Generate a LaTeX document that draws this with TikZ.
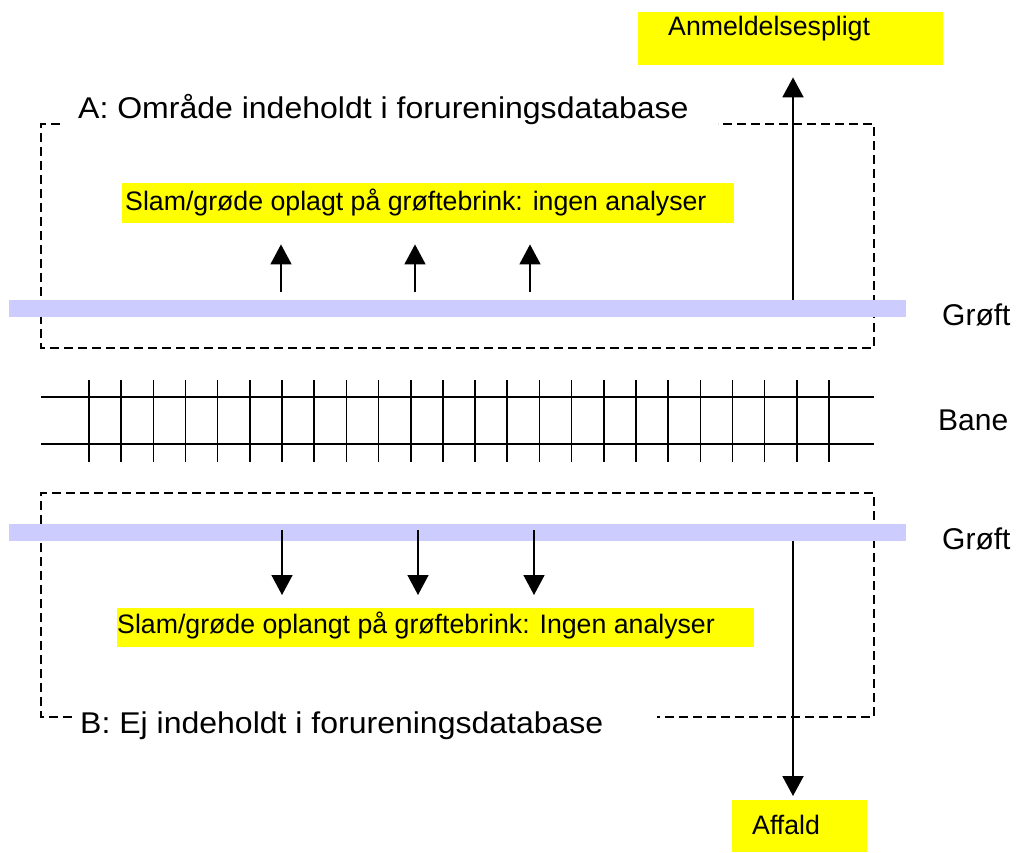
\documentclass[tikz,border=0pt]{standalone}
\usepackage{fontspec}
\setmainfont{Liberation Sans}
\usetikzlibrary{arrows.meta}
\definecolor{bandblue}{RGB}{204,204,255}
\definecolor{boxyellow}{RGB}{255,255,0}
\tikzset{
  bigtext/.style={anchor=base west, inner sep=0pt, font=\fontsize{30}{36}\selectfont},
  ytext/.style={anchor=base west, inner sep=0pt, font=\fontsize{26.7}{32}\selectfont},
  ybox/.style={fill=boxyellow, draw=none, anchor=north west, inner sep=0pt},
  band/.style={fill=bandblue, draw=none},
  areabox/.style={line width=2.6pt, dash pattern=on 9pt off 5pt},
  rail/.style={line width=2pt},
  sleeper/.style={line width=1.6pt},
  smallarrow/.style={line width=1.6pt, -{Triangle[width=21pt,length=20pt]}},
  bigarrow/.style={line width=2pt, -{Triangle[width=21pt,length=20pt]}}
}
\begin{document}
\begin{tikzpicture}[x=1pt,y=-1pt]
\useasboundingbox (0,0) rectangle (1017,852);

% dashed area boxes
\draw[areabox] (60,124) -- (41,124) -- (41,348) -- (874,348) -- (874,124) -- (718,124);
\draw[areabox] (72,717) -- (41,717) -- (41,493) -- (874,493) -- (874,717) -- (657,717);

% area labels
\node[bigtext] (labA) at (78,118) {\scalebox{1.067}[1]{A: Område indeholdt i forureningsdatabase}};
\node[bigtext] (labB) at (80,733) {\scalebox{1.067}[1]{B: Ej indeholdt i forureningsdatabase}};

% ditches
\fill[band] (9,300) rectangle (906,317);
\fill[band] (9,524) rectangle (906,541);

% track
\draw[rail] (41,397) -- (874,397);
\draw[rail] (41,444) -- (874,444);
\foreach \i in {0,...,23} \draw[sleeper] (89+32.174*\i,380) -- ++(0,82);

% right labels
\node[bigtext] (groft1) at (942,325) {Grøft};
\node[bigtext] (bane) at (938,430) {Bane};
\node[bigtext] (groft2) at (942,549) {Grøft};

% yellow boxes
\node[ybox, minimum width=305pt, minimum height=53pt] (anm) at (638,12) {};
\node[ytext] (anmtxt) at (668,35) {Anmeldelsespligt};
\node[ybox, minimum width=612pt, minimum height=40pt] (slamA) at (122,183) {};
\node[ytext] (slamAtxt) at (125,210) {Slam/grøde oplagt på grøftebrink: ingen analyser};
\node[ybox, minimum width=637pt, minimum height=39pt] (slamB) at (117,608) {};
\node[ytext] (slamBtxt) at (117,633) {Slam/grøde oplangt på grøftebrink: Ingen analyser};
\node[ybox, minimum width=135pt, minimum height=52pt] (aff) at (732,800) {};
\node[ytext] (afftxt) at (752,834) {Affald};

% arrows
\coordinate (a1) at (281,292);
\coordinate (a2) at (415,292);
\coordinate (a3) at (530,292);
\draw[smallarrow] (a1) -- ([yshift=-21pt]a1 |- slamA.south);
\draw[smallarrow] (a2) -- ([yshift=-21pt]a2 |- slamA.south);
\draw[smallarrow] (a3) -- ([yshift=-21pt]a3 |- slamA.south);

\coordinate (b1) at (282,530);
\coordinate (b2) at (418,530);
\coordinate (b3) at (534,530);
\draw[smallarrow] (b1) -- ([yshift=13pt]b1 |- slamB.north);
\draw[smallarrow] (b2) -- ([yshift=13pt]b2 |- slamB.north);
\draw[smallarrow] (b3) -- ([yshift=13pt]b3 |- slamB.north);

\coordinate (up) at (793,300);
\draw[bigarrow] (up) -- ([yshift=-12pt]up |- anm.south);
\coordinate (down) at (793,541);
\draw[bigarrow] (down) -- ([yshift=4pt]down |- aff.north);
\end{tikzpicture}
\end{document}
